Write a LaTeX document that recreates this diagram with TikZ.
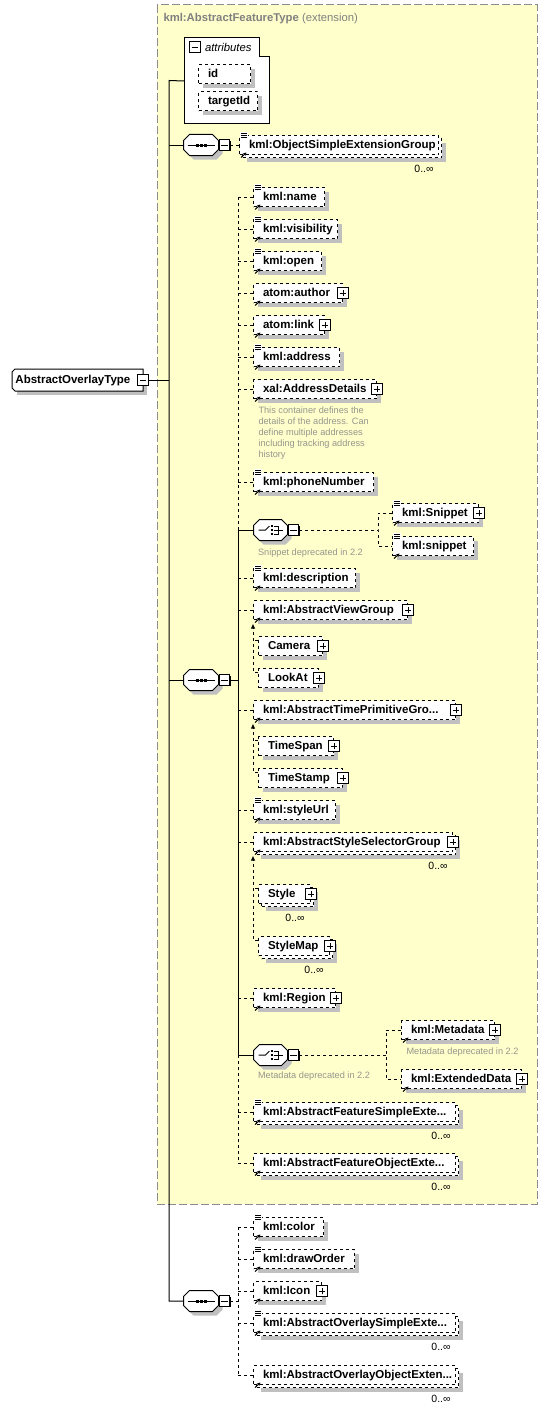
\documentclass[tikz,border=0pt]{standalone}
\usepackage{fontspec}
\setmainfont{Liberation Sans}
\usetikzlibrary{arrows.meta,shadows}

\definecolor{extfill}{HTML}{FFFFCC}
\definecolor{extline}{HTML}{8C8C8C}
\definecolor{shade}{HTML}{C0C0C0}
\definecolor{notegray}{HTML}{96968C}
\definecolor{titlegray}{HTML}{808080}

\newcommand\simplemark[1]{%
  \fill[white] ([shift={(1,-3)}]#1.north west) rectangle +(8,7);
  \draw[line width=0.8pt] ([shift={(2,-1.5)}]#1.north west) -- +(6,0)
    ([shift={(2,0.5)}]#1.north west) -- +(6,0) ([shift={(2,2.5)}]#1.north west) -- +(6,0);}
\newcommand\refmark[1]{%
  \draw[line width=1pt,-{Stealth[length=3.5pt,width=3.5pt]}] ([shift={(2,2.5)}]#1.south west) -- +(5.5,-5);}
\newcommand\plusat[1]{\node[plusbox] (#1-p) at (#1.east) {};}
\newcommand\octo[1]{%
  \draw[fill=white,general shadow={fill=shade,shadow xshift=4pt,shadow yshift=-4pt}]
    ([xshift=6pt]#1.north west) -- ([xshift=-6pt]#1.north east) -- ([yshift=-6pt]#1.north east)
    -- ([yshift=6pt]#1.south east) -- ([xshift=-6pt]#1.south east) -- ([xshift=6pt]#1.south west)
    -- ([yshift=6pt]#1.south west) -- ([yshift=-6pt]#1.north west) -- cycle;}
\newcommand\seqmark[1]{%
  \draw ([xshift=4pt]#1.west) -- ([xshift=-4pt]#1.east);
  \foreach \sx in {-4,0,4}
    \fill ([xshift=\sx pt]#1.center) +(-1.5pt,-1.5pt) rectangle +(1.5pt,1.5pt);}
\newcommand\choicemark[1]{%
  \draw ([xshift=-12pt]#1.center) -- ([xshift=-5pt]#1.center) -- ([shift={(-1pt,4pt)}]#1.center);
  \foreach \sy in {-4,0,4}
    \fill ([shift={(1.5pt,\sy pt)}]#1.center) +(-1.3pt,-1.3pt) rectangle +(1.3pt,1.3pt);
  \draw ([shift={(3pt,4pt)}]#1.center) -- ([shift={(8pt,4pt)}]#1.center) -- ([shift={(8pt,-4pt)}]#1.center)
    -- ([shift={(3pt,-4pt)}]#1.center) ([shift={(3pt,0pt)}]#1.center) -- ([shift={(12pt,0pt)}]#1.center);}

\begin{document}
\begin{tikzpicture}[x=1pt,y=-1pt,line width=1pt,>={Latex[length=5pt,width=4.5pt]},
  elembase/.style={draw,dashed,fill=white,anchor=west,minimum height=19pt,inner xsep=9.5pt,
    inner ysep=0pt,align=left,text height=8.5pt,text depth=2.5pt,
    font=\fontsize{11.5}{13}\selectfont\bfseries},
  elem/.style={elembase,text width=#1,
    general shadow={fill=shade,shadow xshift=4pt,shadow yshift=-4pt}},
  multielem/.style={elembase,text width=#1,
    general shadow={fill=shade,shadow xshift=7pt,shadow yshift=-7pt},
    copy shadow={dashed,shadow xshift=3pt,shadow yshift=-3pt}},
  minusbox/.style={draw,solid,fill=white,minimum size=10.5pt,inner sep=0pt,anchor=west,
    general shadow={fill=black,shadow xshift=1pt,shadow yshift=-1pt},
    path picture={\draw[line width=0.9pt] ([xshift=2pt]path picture bounding box.west)
      -- ([xshift=-2pt]path picture bounding box.east);}},
  plusbox/.style={minusbox,anchor=center,
    path picture={\draw[line width=0.9pt] ([xshift=2pt]path picture bounding box.west)
      -- ([xshift=-2pt]path picture bounding box.east)
      ([yshift=2pt]path picture bounding box.south) -- ([yshift=-2pt]path picture bounding box.north);}},
  seqbox/.style={minimum width=34pt,minimum height=20pt,inner sep=0pt},
  choicebox/.style={minimum width=33pt,minimum height=20pt,inner sep=0pt},
  mult/.style={font=\fontsize{10.5}{12}\selectfont,inner sep=0pt},
  note/.style={font=\fontsize{9.2}{11}\selectfont,text=notegray,inner sep=0pt,align=left},
  title/.style={font=\fontsize{11.3}{13}\selectfont,text=titlegray,anchor=west,inner sep=0pt}]
\useasboundingbox (0,0) rectangle (547,1410);

\draw[extline,fill=extfill,dash pattern=on 8pt off 3pt] (157,5) rectangle (537,1204);
\node[title] (ttl) at (163,19) {\textbf{kml:AbstractFeatureType} (extension)};

\node[minimum width=84pt,minimum height=85pt,inner sep=0pt,anchor=north west] (attr) at (184,38) {};
\draw[fill=white] (attr.north west) -- ([xshift=-10pt]attr.north east) -- ([shift={(-10pt,-19pt)}]attr.north east)
  -- ([yshift=-19pt]attr.north east) -- (attr.south east) -- (attr.south west) -- cycle;
\node[minusbox] (attrm) at ([shift={(5,9)}]attr.north west) {};
\node[font=\fontsize{11.3}{13}\selectfont\itshape,anchor=west,inner sep=0pt] (attrt) at ([xshift=4pt]attrm.east) {attributes};
\node[elem=33pt] (id) at (198,74.5) {id};
\node[elem=40pt] (targetid) at (198,101.5) {targetId};

\node[fill=white,anchor=west,minimum height=21pt,inner xsep=3pt,text width=124pt,align=left,
  text height=8.5pt,text depth=2.5pt,font=\fontsize{11.5}{13}\selectfont\bfseries,
  general shadow={fill=shade,shadow xshift=4pt,shadow yshift=-4pt}] (ovl) at (12,380) {AbstractOverlayType};
\draw ([xshift=3pt]ovl.north west) -- (ovl.north east) -- (ovl.south east) -- ([xshift=3pt]ovl.south west)
  -- ([yshift=3pt]ovl.south west) -- ([yshift=-3pt]ovl.north west) -- cycle;
\node[minusbox,anchor=center] (ovlm) at (ovl.east) {};

\node[seqbox] (s1) at (201,145) {};
\octo{s1} \seqmark{s1}
\node[minusbox] (s1m) at (s1.east) {};
\node[seqbox] (s2) at (201,680) {};
\octo{s2} \seqmark{s2}
\node[minusbox] (s2m) at (s2.east) {};
\node[seqbox] (s3) at (201,1301) {};
\octo{s3} \seqmark{s3}
\node[minusbox] (s3m) at (s3.east) {};
\node[choicebox] (ch1) at (270.5,530) {};
\octo{ch1} \choicemark{ch1}
\node[minusbox] (ch1m) at (ch1.east) {};
\node[choicebox] (ch2) at (270.5,1055) {};
\octo{ch2} \choicemark{ch2}
\node[minusbox] (ch2m) at (ch2.east) {};

\node[multielem=180pt] (osg) at (239,145) {kml:ObjectSimpleExtensionGroup};
\node[mult] (osg-m) at ([shift={(-15,13.5)}]osg.south east) {0..∞};

\node[elem=52pt] (name) at (253,197) {kml:name};
\node[elem=65pt] (vis) at (253,229) {kml:visibility};
\node[elem=49pt] (open) at (253,261) {kml:open};
\node[elem=70pt] (author) at (253,293) {atom:author};
\node[elem=52pt] (link) at (253,325) {atom:link};
\node[elem=67pt] (address) at (253,357) {kml:address};
\node[elem=104pt] (addrdet) at (253,389) {xal:AddressDetails};
\node[note,anchor=north west] (addrnote) at ([shift={(5,7)}]addrdet.south west)
  {This container defines the\\details of the address. Can\\define multiple addresses\\including tracking address\\history};
\node[elem=101pt] (phone) at (253,482) {kml:phoneNumber};
\node[note,anchor=west] (ch1note) at ([shift={(4,23)}]ch1.west) {Snippet deprecated in 2.2};
\node[elem=67pt] (snipU) at (392,513) {kml:Snippet};
\node[elem=62pt] (snipL) at (392,546) {kml:snippet};
\node[elem=83pt] (desc) at (253,578) {kml:description};
\node[elem=135pt] (viewg) at (253,610) {kml:AbstractViewGroup};
\node[elem=45pt] (camera) at (258,646) {Camera};
\node[elem=41pt] (lookat) at (258,678) {LookAt};
\node[elem=183pt] (timeprim) at (253,710) {kml:AbstractTimePrimitiveGro...};
\node[elem=56pt] (timespan) at (258,746) {TimeSpan};
\node[elem=65pt] (timestamp) at (258,778) {TimeStamp};
\node[elem=63pt] (styleurl) at (253,810) {kml:styleUrl};
\node[multielem=180pt] (stylesel) at (253,842) {kml:AbstractStyleSelectorGroup};
\node[mult] (stylesel-m) at ([shift={(-15,13.5)}]stylesel.south east) {0..∞};
\node[multielem=33pt] (style) at (258,894) {Style};
\node[mult] (style-m) at ([shift={(-16,13.5)}]style.south east) {0..∞};
\node[multielem=52pt] (stylemap) at (258,946) {StyleMap};
\node[mult] (stylemap-m) at ([shift={(-16,13.5)}]stylemap.south east) {0..∞};
\node[elem=63pt] (region) at (253,998) {kml:Region};
\node[note,anchor=west] (ch2note) at ([shift={(4,21)}]ch2.west) {Metadata deprecated in 2.2};
\node[elem=74pt] (meta) at (401,1030) {kml:Metadata};
\node[note,anchor=west] (metanote) at ([shift={(5,22)}]meta.west) {Metadata deprecated in 2.2};
\node[elem=101pt] (extd) at (401,1079) {kml:ExtendedData};
\node[multielem=183pt] (featsimple) at (253,1112) {kml:AbstractFeatureSimpleExte...};
\node[mult] (featsimple-m) at ([shift={(-15,13.5)}]featsimple.south east) {0..∞};
\node[multielem=183pt] (featobj) at (253,1163) {kml:AbstractFeatureObjectExte...};
\node[mult] (featobj-m) at ([shift={(-15,13.5)}]featobj.south east) {0..∞};

\node[elem=51pt] (color) at (253,1227) {kml:color};
\node[elem=82pt] (draworder) at (253,1259) {kml:drawOrder};
\node[elem=49pt] (icon) at (253,1291) {kml:Icon};
\node[multielem=183pt] (ovlsimple) at (253,1323) {kml:AbstractOverlaySimpleExte...};
\node[mult] (ovlsimple-m) at ([shift={(-15,13.5)}]ovlsimple.south east) {0..∞};
\node[multielem=183pt] (ovlobj) at (253,1375) {kml:AbstractOverlayObjectExten...};
\node[mult] (ovlobj-m) at ([shift={(-15,13.5)}]ovlobj.south east) {0..∞};

\foreach \n in {osg,name,vis,open,address,phone,snipU,snipL,desc,styleurl,featsimple,color,draworder,ovlsimple}
  \simplemark{\n};
\foreach \n in {osg,name,vis,open,author,link,address,addrdet,phone,snipU,snipL,desc,viewg,timeprim,
  styleurl,stylesel,region,meta,extd,featsimple,featobj,color,draworder,icon,ovlsimple,ovlobj}
  \refmark{\n};
\foreach \n in {author,link,addrdet,snipU,viewg,camera,lookat,timeprim,timespan,timestamp,
  stylesel,style,stylemap,region,meta,extd,icon}
  \plusat{\n};

\coordinate (trunk) at (169,80.5);
\draw (attr.west) -- (trunk) |- (s3.west);
\draw (ovlm.east) -- (ovlm.east -| trunk);
\draw (s1.west -| trunk) -- (s1.west);
\draw (s2.west -| trunk) -- (s2.west);
\draw[dashed] (s1m.east) -- (osg.west);

\coordinate (sp2) at (238,680);
\draw (s2m.east) -- (sp2);
\draw[dashed] (name.west -| sp2) -- (ch1.west -| sp2);
\draw (ch1.west -| sp2) -- (ch2.west -| sp2);
\draw[dashed] (ch2.west -| sp2) -- (featobj.west -| sp2);
\foreach \n in {name,vis,open,author,link,address,addrdet,phone,desc,viewg,timeprim,styleurl,stylesel,
  region,featsimple,featobj}
  \draw[dashed] (\n.west -| sp2) -- (\n.west);
\draw (ch1.west -| sp2) -- (ch1.west);
\draw (ch2.west -| sp2) -- (ch2.west);

\coordinate (br1) at (378,530);
\draw[dashed] (ch1m.east) -- (br1);
\draw[dashed] (snipU.west) -| (br1) |- (snipL.west);
\coordinate (br2) at (386,1055);
\draw[dashed] (ch2m.east) -- (br2);
\draw[dashed] (meta.west) -| (br2) |- (extd.west);

\draw[dashed,->] ([yshift=-4pt]lookat.north west) -| ([yshift=-3.5pt]viewg.south west);
\draw[dashed] ([yshift=-4pt]camera.north west) -- +(-5,0);
\draw[dashed,->] ([yshift=-4pt]timestamp.north west) -| ([yshift=-3.5pt]timeprim.south west);
\draw[dashed] ([yshift=-4pt]timespan.north west) -- +(-5,0);
\draw[dashed,->] ([yshift=-4pt]stylemap.north west) -| ([yshift=-3.5pt]stylesel.south west);
\draw[dashed] ([yshift=-4pt]style.north west) -- +(-5,0);

\coordinate (sp3) at (238,1301);
\draw[dashed] (s3m.east) -- (sp3);
\draw[dashed] (color.west -| sp3) -- (ovlobj.west -| sp3);
\foreach \n in {color,draworder,icon,ovlsimple,ovlobj}
  \draw[dashed] (\n.west -| sp3) -- (\n.west);
\end{tikzpicture}
\end{document}
